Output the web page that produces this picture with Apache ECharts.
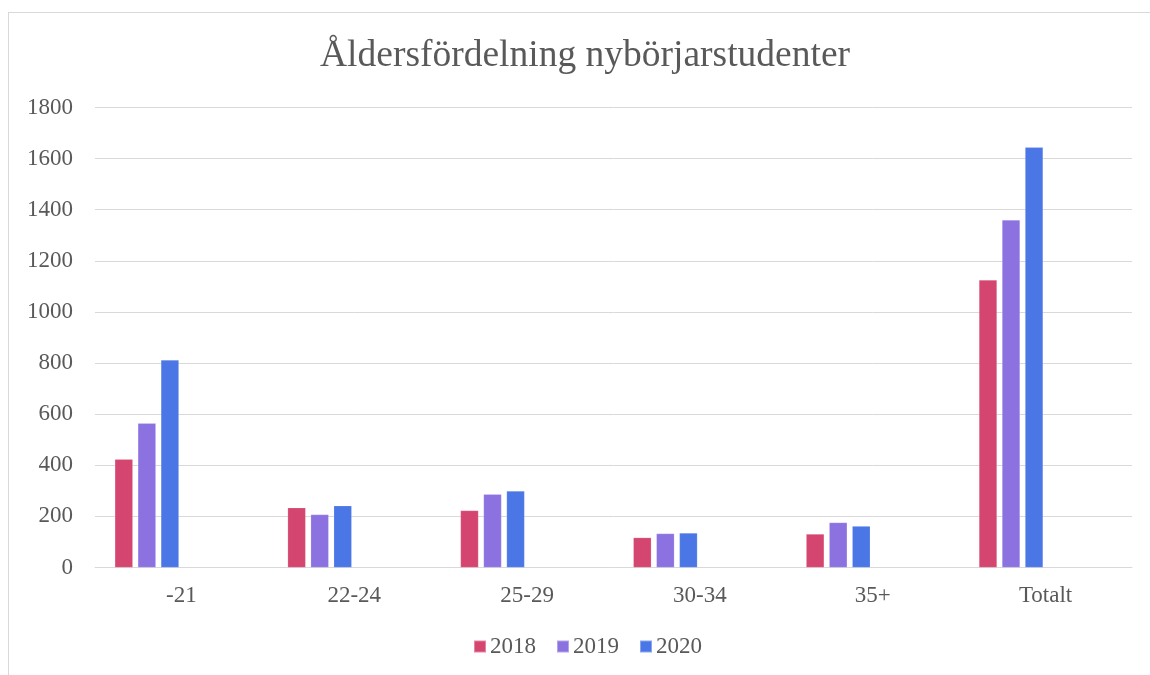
<!DOCTYPE html>
<html>
<head>
<meta charset="utf-8">
<script src="https://cdn.jsdelivr.net/npm/echarts@6/dist/echarts.min.js"></script>
<style>
html,body{margin:0;padding:0;background:#fff;}
#frame{position:absolute;left:8px;top:12px;width:1200px;height:700px;border:1px solid #d9d9d9;box-sizing:border-box;}
#chart{position:absolute;left:0;top:0;width:1150px;height:675px;}
</style>
</head>
<body>
<div id="frame"></div>
<div id="chart"></div>
<script>
const categories = ['-21', '22-24', '25-29', '30-34', '35+', 'Totalt'];
const seriesNames = ['2018', '2019', '2020'];
const values2018 = [424, 234, 223, 117, 131, 1125];
const values2019 = [564, 207, 287, 133, 176, 1360];
const values2020 = [812, 242, 299, 135, 162, 1644];
const yTicks = [0, 200, 400, 600, 800, 1000, 1200, 1400, 1600, 1800];
const colors = ['#D4456F', '#8B72E0', '#4A76E6'];

const chart = echarts.init(document.getElementById('chart'));
const font = 'Liberation Serif';
const txt = '#595959';
const empty = categories.map(() => null);
const all = [values2018, values2019, values2020, empty, empty, empty];
const series = all.map((d, i) => ({
  type: 'bar',
  name: i < 3 ? seriesNames[i] : 'empty' + i,
  data: d,
  barWidth: 18,
  barGap: '28%',
  itemStyle: { color: colors[i % 3], borderColor: 'rgba(255,255,255,0.35)', borderWidth: 0.5 },
  silent: i >= 3
}));

chart.setOption({
  animation: false,
  title: {
    text: 'Åldersfördelning nybörjarstudenter',
    left: 315, top: 32,
    textStyle: { fontFamily: font, fontSize: 37.5, fontWeight: 'normal', color: txt }
  },
  legend: {
    data: seriesNames,
    bottom: 12, left: 468,
    itemWidth: 12, itemHeight: 12, itemGap: 20,
    icon: 'rect',
    textStyle: { fontFamily: font, fontSize: 23, color: txt, padding: [0, 0, 0, -1] }
  },
  grid: { left: 95, right: 18, top: 107.5, bottom: 107.5 },
  xAxis: {
    type: 'category',
    data: categories,
    axisLine: { lineStyle: { color: '#d9d9d9', width: 1 } },
    axisTick: { show: false },
    axisLabel: { fontFamily: font, fontSize: 23, color: txt, margin: 17 }
  },
  yAxis: {
    type: 'value',
    min: yTicks[0], max: yTicks[yTicks.length - 1], interval: yTicks[1] - yTicks[0],
    axisLine: { show: false },
    axisTick: { show: false },
    splitLine: { lineStyle: { color: '#d9d9d9', width: 1 } },
    axisLabel: { fontFamily: font, fontSize: 23, color: txt, margin: 22, formatter: v => String(v) }
  },
  series: series
});
</script>
</body>
</html>
